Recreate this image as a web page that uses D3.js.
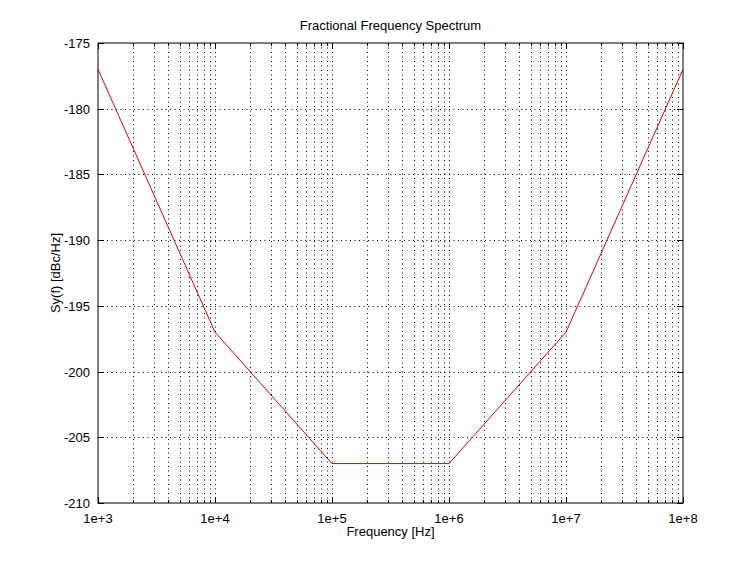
<!DOCTYPE html>
<html lang="en">
<head>
<meta charset="UTF-8">
<title>Fractional Frequency Spectrum</title>
<script src="https://d3js.org/d3.v7.min.js"></script>
<style>
    body { margin: 0; background: #fff; }
    text { font-family: "Liberation Sans", Arial, sans-serif; fill: #000; }
    .grid line { stroke: #000; stroke-width: 1; stroke-dasharray: 1,3.5; }
    .frame { fill: none; stroke: #000; stroke-width: 1; }
</style>
</head>
<body>
<svg width="754" height="566"></svg>
<script>
    const freqs = [1e3, 1e4, 1e5, 1e6, 1e7, 1e8];
    const sy = [-177, -197, -207, -207, -197, -177];
    const yTicks = [-210, -205, -200, -195, -190, -185, -180, -175];
    const xDecades = [1e3, 1e4, 1e5, 1e6, 1e7, 1e8];

    const svg = d3.select('svg');
    const margin = { top: 43, right: 71, bottom: 63, left: 98 };
    const width = 754, height = 566;

    const x = d3.scaleLog()
        .domain([1e3, 1e8])
        .range([margin.left, width - margin.right]);
    const y = d3.scaleLinear()
        .domain([-210, -175])
        .range([height - margin.bottom, margin.top]);

    // minor ticks 2..9 per decade
    const minor = [];
    xDecades.slice(0, -1).forEach(d => {
        for (let k = 2; k <= 9; k++) minor.push(d * k);
    });

    const grid = svg.append('g').attr('class', 'grid');
    grid.selectAll('.vx')
        .data(xDecades.slice(1, -1).concat(minor))
        .enter().append('line')
        .attr('x1', d => Math.round(x(d)) + 0.5)
        .attr('x2', d => Math.round(x(d)) + 0.5)
        .attr('y1', y(-210))
        .attr('y2', y(-175));
    grid.selectAll('.hy')
        .data(yTicks.slice(1, -1))
        .enter().append('line')
        .attr('x1', x(1e3))
        .attr('x2', x(1e8))
        .attr('y1', d => Math.round(y(d)) + 0.5)
        .attr('y2', d => Math.round(y(d)) + 0.5);

    // tick marks (inward)
    const ticks = svg.append('g').attr('stroke', '#000').attr('stroke-width', 1);
    xDecades.forEach(d => {
        const px = Math.round(x(d)) + 0.5;
        ticks.append('line').attr('x1', px).attr('x2', px).attr('y1', y(-210)).attr('y2', y(-210) - 6);
        ticks.append('line').attr('x1', px).attr('x2', px).attr('y1', y(-175)).attr('y2', y(-175) + 6);
    });
    minor.forEach(d => {
        const px = Math.round(x(d)) + 0.5;
        ticks.append('line').attr('x1', px).attr('x2', px).attr('y1', y(-210)).attr('y2', y(-210) - 3);
        ticks.append('line').attr('x1', px).attr('x2', px).attr('y1', y(-175)).attr('y2', y(-175) + 3);
    });
    yTicks.forEach(d => {
        const py = Math.round(y(d)) + 0.5;
        ticks.append('line').attr('x1', x(1e3)).attr('x2', x(1e3) + 6).attr('y1', py).attr('y2', py);
        ticks.append('line').attr('x1', x(1e8)).attr('x2', x(1e8) - 6).attr('y1', py).attr('y2', py);
    });

    // tick labels
    svg.append('g').selectAll('text')
        .data(xDecades)
        .enter().append('text')
        .attr('x', d => x(d))
        .attr('y', y(-210) + 20)
        .attr('text-anchor', 'middle')
        .attr('font-size', 13)
        .text(d => '1e+' + Math.round(Math.log10(d)));
    svg.append('g').selectAll('text')
        .data(yTicks)
        .enter().append('text')
        .attr('x', x(1e3) - 8)
        .attr('y', d => y(d) + 5)
        .attr('text-anchor', 'end')
        .attr('font-size', 13)
        .text(d => d);

    // the curve
    const line = d3.line()
        .x((d, i) => x(freqs[i]))
        .y(d => y(d));
    svg.append('path')
        .datum(sy)
        .attr('d', line)
        .attr('fill', 'none')
        .attr('stroke', '#e00000')
        .attr('stroke-width', 1);

    svg.append('rect')
        .attr('class', 'frame')
        .attr('x', x(1e3))
        .attr('y', y(-175))
        .attr('width', x(1e8) - x(1e3))
        .attr('height', y(-210) - y(-175));

    svg.append('text')
        .attr('x', (x(1e3) + x(1e8)) / 2)
        .attr('y', 30)
        .attr('text-anchor', 'middle')
        .attr('font-size', 13)
        .text('Fractional Frequency Spectrum');

    svg.append('text')
        .attr('x', (x(1e3) + x(1e8)) / 2)
        .attr('y', 536)
        .attr('text-anchor', 'middle')
        .attr('font-size', 13)
        .text('Frequency [Hz]');

    svg.append('text')
        .attr('transform', `translate(60,${(y(-175) + y(-210)) / 2}) rotate(-90)`)
        .attr('text-anchor', 'middle')
        .attr('font-size', 13)
        .text('Sy(f) [dBc/Hz]');
</script>
</body>
</html>
